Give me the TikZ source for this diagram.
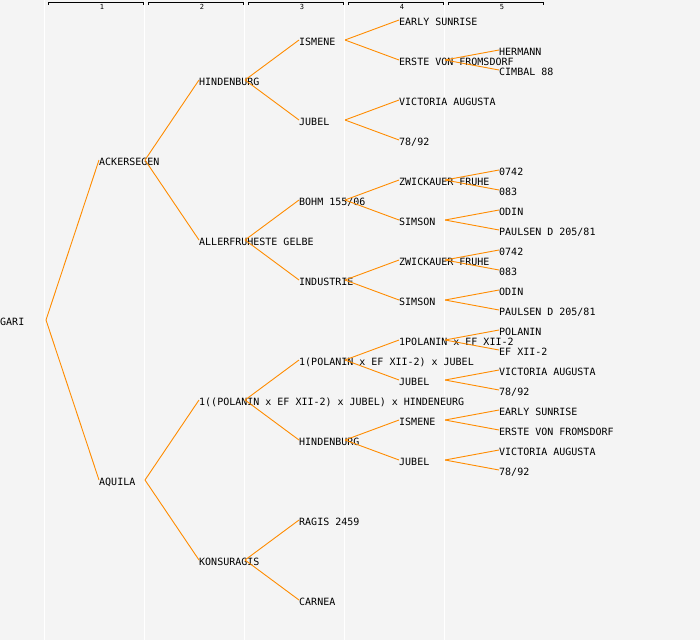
\documentclass[tikz,border=0pt]{standalone}
\usepackage{fontspec}
\setmonofont{DejaVu Sans Mono}
\usepackage{tikz}
\definecolor{pedline}{RGB}{255,140,0}
\definecolor{pedbg}{RGB}{244,244,244}

\begin{document}
\begin{tikzpicture}[x=1pt, y=-1pt,
	horse/.style={anchor=west, inner sep=0pt, text height=11pt, text depth=0pt, font=\ttfamily\fontsize{10}{12}\selectfont},
	link/.style={draw=pedline, line width=0.9pt},
	colnum/.style={inner sep=0pt, font=\ttfamily\fontsize{7}{7}\selectfont},
	bracket/.style={draw=black, line width=0.9pt},
	sep/.style={draw=white, line width=1.2pt}]
\fill[pedbg] (0,0) rectangle (700,640);
\useasboundingbox (0,0) rectangle (700,640);

% generation columns
\foreach \k in {0,...,4}
	\draw[sep] ({44.5+100*\k},0) -- ++(0,640);
\foreach \k in {1,...,5} {
	\draw[bracket] ({100*\k-52},4.5) |- ({100*\k+43},2) -- ({100*\k+43},4.5);
	\node[colnum] (h\k) at ({100*\k+2},6.5) {\k};
}

% horse
\node[horse] (g) at (0,320) {GARI};
% generation 1
\node[horse] (g1) at (99,160) {ACKERSEGEN};
\node[horse] (g2) at (99,480) {AQUILA};
% generation 2
\node[horse] (g11) at (199,80) {HINDENBURG};
\node[horse] (g12) at (199,240) {ALLERFRUHESTE GELBE};
\node[horse] (g21) at (199,400) {1((POLANIN x EF XII-2) x JUBEL) x HINDENEURG};
\node[horse] (g22) at (199,560) {KONSURAGIS};
% generation 3
\node[horse] (g111) at (299,40) {ISMENE};
\node[horse] (g112) at (299,120) {JUBEL};
\node[horse] (g121) at (299,200) {BOHM 155/06};
\node[horse] (g122) at (299,280) {INDUSTRIE};
\node[horse] (g211) at (299,360) {1(POLANIN x EF XII-2) x JUBEL};
\node[horse] (g212) at (299,440) {HINDENBURG};
\node[horse] (g221) at (299,520) {RAGIS 2459};
\node[horse] (g222) at (299,600) {CARNEA};
% generation 4
\node[horse] (g1111) at (399,20) {EARLY SUNRISE};
\node[horse] (g1112) at (399,60) {ERSTE VON FROMSDORF};
\node[horse] (g1121) at (399,100) {VICTORIA AUGUSTA};
\node[horse] (g1122) at (399,140) {78/92};
\node[horse] (g1211) at (399,180) {ZWICKAUER FRUHE};
\node[horse] (g1212) at (399,220) {SIMSON};
\node[horse] (g1221) at (399,260) {ZWICKAUER FRUHE};
\node[horse] (g1222) at (399,300) {SIMSON};
\node[horse] (g2111) at (399,340) {1POLANIN x EF XII-2};
\node[horse] (g2112) at (399,380) {JUBEL};
\node[horse] (g2121) at (399,420) {ISMENE};
\node[horse] (g2122) at (399,460) {JUBEL};
% generation 5
\node[horse] (g11121) at (499,50) {HERMANN};
\node[horse] (g11122) at (499,70) {CIMBAL 88};
\node[horse] (g12111) at (499,170) {0742};
\node[horse] (g12112) at (499,190) {083};
\node[horse] (g12121) at (499,210) {ODIN};
\node[horse] (g12122) at (499,230) {PAULSEN D 205/81};
\node[horse] (g12211) at (499,250) {0742};
\node[horse] (g12212) at (499,270) {083};
\node[horse] (g12221) at (499,290) {ODIN};
\node[horse] (g12222) at (499,310) {PAULSEN D 205/81};
\node[horse] (g21111) at (499,330) {POLANIN};
\node[horse] (g21112) at (499,350) {EF XII-2};
\node[horse] (g21121) at (499,370) {VICTORIA AUGUSTA};
\node[horse] (g21122) at (499,390) {78/92};
\node[horse] (g21211) at (499,410) {EARLY SUNRISE};
\node[horse] (g21212) at (499,430) {ERSTE VON FROMSDORF};
\node[horse] (g21221) at (499,450) {VICTORIA AUGUSTA};
\node[horse] (g21222) at (499,470) {78/92};

% parent -> sire/dam
\foreach \p/\c in {g/g1, g/g2,
	g1/g11, g1/g12, g2/g21, g2/g22,
	g11/g111, g11/g112, g12/g121, g12/g122, g21/g211, g21/g212, g22/g221, g22/g222,
	g111/g1111, g111/g1112, g112/g1121, g112/g1122, g121/g1211, g121/g1212,
	g122/g1221, g122/g1222, g211/g2111, g211/g2112, g212/g2121, g212/g2122,
	g1112/g11121, g1112/g11122, g1211/g12111, g1211/g12112, g1212/g12121, g1212/g12122,
	g1221/g12211, g1221/g12212, g1222/g12221, g1222/g12222, g2111/g21111, g2111/g21112,
	g2112/g21121, g2112/g21122, g2121/g21211, g2121/g21212, g2122/g21221, g2122/g21222}
	\draw[link] ([xshift=46pt]\p.west) -- (\c.west);
\end{tikzpicture}
\end{document}
